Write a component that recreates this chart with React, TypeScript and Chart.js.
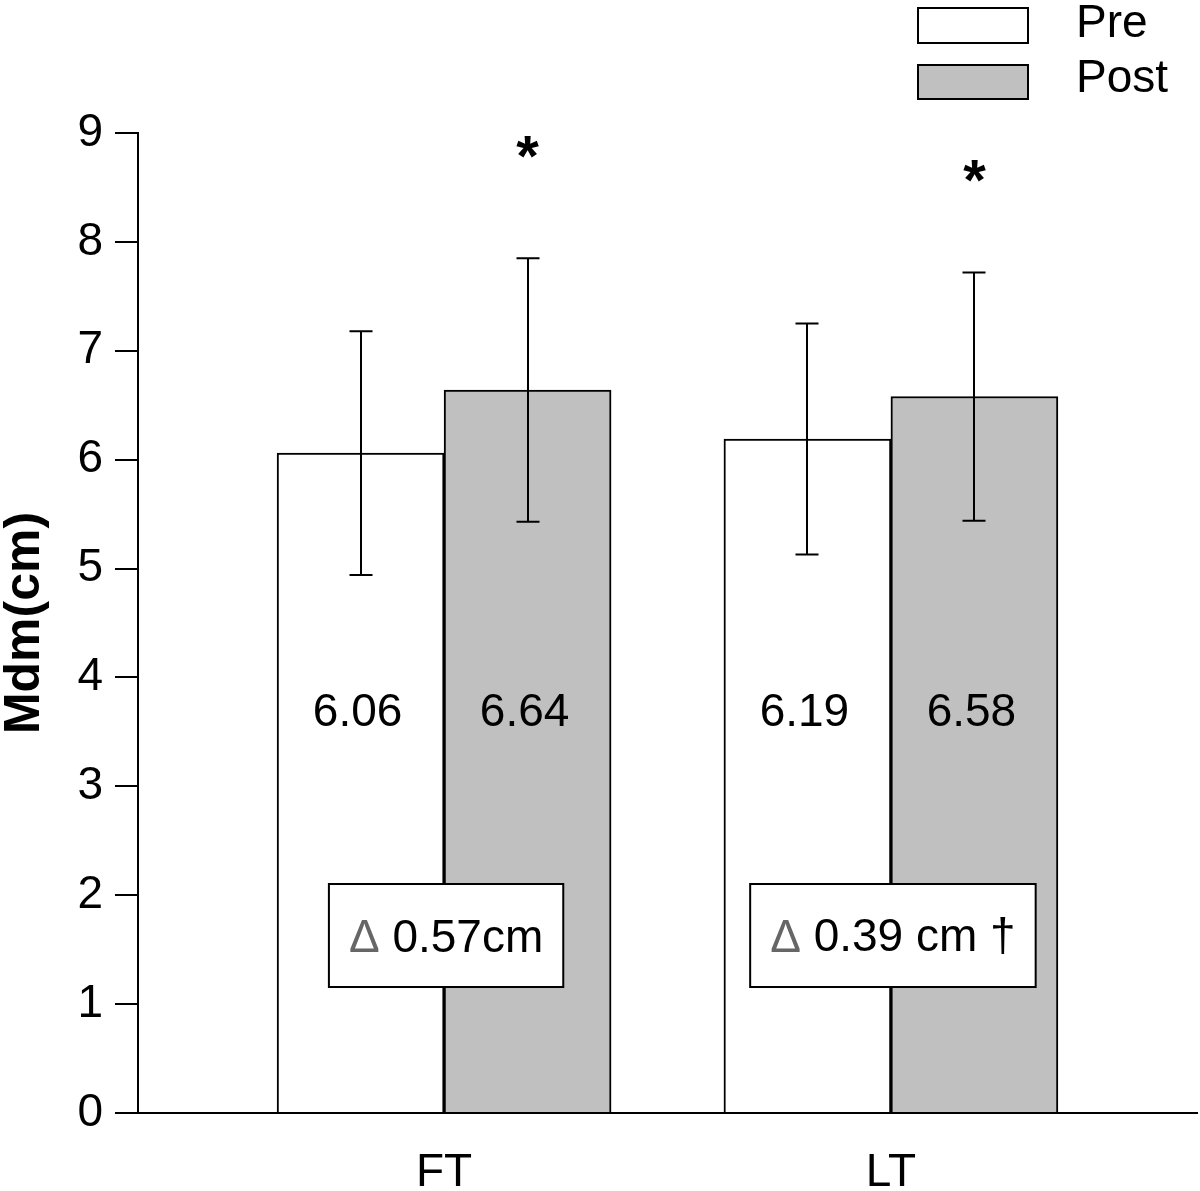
import React, { useEffect, useRef } from "react";
import { Chart, registerables } from "chart.js";

Chart.register(...registerables);

const categories = ["FT", "LT"];
const seriesNames = ["Pre", "Post"];
const preValues = [6.06, 6.19];
const postValues = [6.64, 6.58];
const preErrors = [1.12, 1.06];
const postErrors = [1.21, 1.14];
const valueLabels = [["6.06", "6.19"], ["6.64", "6.58"]];
const deltaLabels = ["0.57cm", "0.39 cm \u2020"];
const significance = ["*", "*"];
const significanceY = [8.87, 8.65];
const yTicks = [0, 1, 2, 3, 4, 5, 6, 7, 8, 9];

const FONT = '"Liberation Sans", Arial, Helvetica, sans-serif';
const GREY = "#c0c0c0";

function drawCentered(ctx: CanvasRenderingContext2D, text: string, x: number, y: number, align: CanvasTextAlign = "center") {
  ctx.textAlign = align;
  ctx.textBaseline = "alphabetic";
  const m = ctx.measureText(text);
  const asc = m.actualBoundingBoxAscent;
  const desc = m.actualBoundingBoxDescent;
  ctx.fillText(text, x, y + (asc - desc) / 2);
}

const overlayPlugin = {
  id: "overlay",
  afterDatasetsDraw(chart: any) {
    const ctx: CanvasRenderingContext2D = chart.ctx;
    const xs = chart.scales.x;
    const ys = chart.scales.y;
    const errs = [preErrors, postErrors];
    const vals = [preValues, postValues];
    ctx.save();
    // error bars
    ctx.strokeStyle = "#000";
    ctx.lineWidth = 2;
    for (let d = 0; d < 2; d++) {
      const meta = chart.getDatasetMeta(d);
      meta.data.forEach((bar: any, i: number) => {
        const x = Math.round(bar.x);
        const top = ys.getPixelForValue(vals[d][i] + errs[d][i]);
        const bot = ys.getPixelForValue(vals[d][i] - errs[d][i]);
        ctx.beginPath();
        ctx.moveTo(x, top);
        ctx.lineTo(x, bot);
        ctx.moveTo(x - 11.5, top);
        ctx.lineTo(x + 11.5, top);
        ctx.moveTo(x - 11.5, bot);
        ctx.lineTo(x + 11.5, bot);
        ctx.stroke();
      });
    }
    // value labels
    ctx.fillStyle = "#000";
    ctx.font = `46px ${FONT}`;
    for (let d = 0; d < 2; d++) {
      const meta = chart.getDatasetMeta(d);
      meta.data.forEach((bar: any, i: number) => {
        drawCentered(ctx, valueLabels[d][i], bar.x - 3, ys.getPixelForValue(3.7));
      });
    }
    // significance stars
    ctx.font = `bold 58px ${FONT}`;
    const postMeta = chart.getDatasetMeta(1);
    postMeta.data.forEach((bar: any, i: number) => {
      drawCentered(ctx, significance[i], bar.x, ys.getPixelForValue(significanceY[i]));
    });
    // delta boxes
    ctx.font = `46px ${FONT}`;
    categories.forEach((_, i) => {
      const cx = xs.getPixelForValue(i) + 2;
      const cy = ys.getPixelForValue(1.63);
      const delta = "\u0394";
      const sp = " ";
      const wD = ctx.measureText(delta).width;
      const wS = ctx.measureText(sp).width;
      const wT = ctx.measureText(deltaLabels[i]).width;
      const total = wD + wS + wT;
      const boxW = total + 40;
      const boxH = 103;
      const bx = cx - boxW / 2;
      const by = cy - boxH / 2;
      ctx.fillStyle = "#fff";
      ctx.fillRect(bx, by, boxW, boxH);
      ctx.strokeStyle = "#000";
      ctx.lineWidth = 2;
      ctx.strokeRect(bx, by, boxW, boxH);
      const tx = cx - total / 2;
      ctx.fillStyle = "#666";
      drawCentered(ctx, delta, tx, cy, "left");
      ctx.fillStyle = "#000";
      drawCentered(ctx, deltaLabels[i], tx + wD + wS, cy + 0, "left");
    });
    // legend
    const fills = ["#fff", GREY];
    const boxes = [
      [918, 8, 110, 35],
      [918, 65, 110, 34],
    ];
    const textY = [21, 76];
    seriesNames.forEach((name, i) => {
      const [lx, ly, lw, lh] = boxes[i];
      ctx.fillStyle = fills[i];
      ctx.fillRect(lx, ly, lw, lh);
      ctx.strokeStyle = "#000";
      ctx.lineWidth = 2;
      ctx.strokeRect(lx, ly, lw, lh);
      ctx.fillStyle = "#000";
      ctx.font = `46px ${FONT}`;
      drawCentered(ctx, name, 1076, textY[i], "left");
    });
    ctx.restore();
  },
};

export default function App() {
  const ref = useRef<HTMLCanvasElement | null>(null);
  useEffect(() => {
    document.body.style.margin = "0";
    const canvas = ref.current!;
    const chart = new Chart(canvas, {
      type: "bar",
      data: {
        datasets: [
          {
            label: seriesNames[0],
            data: preValues.map((v, i) => ({ x: i, y: v })),
            backgroundColor: "#fff",
            borderColor: "#000",
            borderWidth: 2,
            barThickness: 167,
          },
          {
            label: seriesNames[1],
            data: postValues.map((v, i) => ({ x: i, y: v })),
            backgroundColor: GREY,
            borderColor: "#000",
            borderWidth: 2,
            barThickness: 167,
          },
        ],
      },
      options: {
        responsive: false,
        animation: false,
        devicePixelRatio: 1,
        layout: { padding: { top: 133, right: 3, left: 0, bottom: 0 } },
        plugins: {
          legend: { display: false },
          tooltip: { enabled: false },
        },
        scales: {
          x: {
            type: "linear",
            min: -0.685,
            max: 1.685,
            offset: false,
            afterBuildTicks(scale: any) {
              scale.ticks = categories.map((_, i) => ({ value: i }));
            },
            afterFit(scale: any) {
              scale.height = 78;
            },
            ticks: {
              callback: (v: any) => categories[Math.round(Number(v))] ?? "",
              font: { size: 46, family: FONT },
              color: "#000",
              padding: 33,
              maxRotation: 0,
              autoSkip: false,
            },
            grid: { display: false, drawTicks: false },
            border: { display: true, color: "#000", width: 2 },
          },
          y: {
            min: 0,
            max: 9,
            afterBuildTicks(scale: any) {
              scale.ticks = yTicks.map((v) => ({ value: v }));
            },
            afterFit(scale: any) {
              scale.width = 138;
            },
            ticks: {
              font: { size: 46, family: FONT },
              color: "#000",
              padding: 12,
            },
            grid: {
              drawOnChartArea: false,
              color: "#000",
              lineWidth: 2,
              tickLength: 23,
            },
            border: { display: true, color: "#000", width: 2 },
            title: {
              display: true,
              text: "Mdm(cm)",
              color: "#000",
              padding: 0,
              font: { size: 50, weight: "bold", family: FONT, lineHeight: 1 },
            },
          },
        },
      } as any,
      plugins: [overlayPlugin],
    });
    return () => chart.destroy();
  }, []);
  return <canvas ref={ref} width={1200} height={1191} style={{ display: "block" }} />;
}
